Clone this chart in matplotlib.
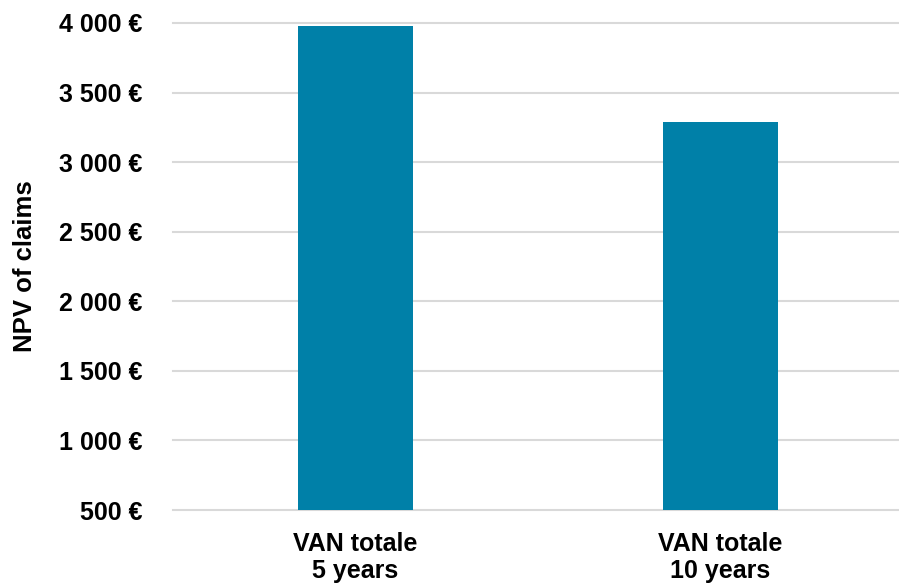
import matplotlib
matplotlib.use("Agg")
from matplotlib import pyplot as plt
import numpy as np

categories = ["VAN totale\n5 years", "VAN totale\n10 years"]
npv = [3978, 3289]
yticks = [500, 1000, 1500, 2000, 2500, 3000, 3500, 4000]

plt.rcParams['font.family'] = ['Liberation Sans', 'DejaVu Sans']
plt.rcParams['font.weight'] = 'bold'

fig = plt.figure(figsize=(8.99, 5.87), dpi=100)
ax = fig.add_axes([173 / 899, 77 / 587, 1 - 173 / 899, 487 / 587])

x = np.arange(len(categories))
ax.bar(x, npv, width=0.315, color="#0080A8", zorder=3)

ax.set_xlim(-0.5, 1.49)
ax.set_ylim(500, 4000)
ax.set_yticks(yticks)
ax.set_yticklabels([f"{v:,} €".replace(",", " ") for v in yticks],
                   fontsize=18, fontweight='bold')
ax.set_xticks(x)
ax.set_xticklabels(categories, fontsize=18, fontweight='bold', linespacing=1.15)

for v in yticks:
    ax.axhline(v, color="#D9D9D9", linewidth=1.5, zorder=1, clip_on=False)

for s in ax.spines.values():
    s.set_visible(False)
ax.tick_params(axis='both', length=0)
ax.tick_params(axis='y', pad=22)
ax.tick_params(axis='x', pad=16)

ax.set_ylabel("NPV of claims", fontsize=18.5, fontweight='bold')
ax.yaxis.set_label_coords(-0.187, 0.5)

fig.savefig("out.png", dpi=100)
plt.close(fig)
